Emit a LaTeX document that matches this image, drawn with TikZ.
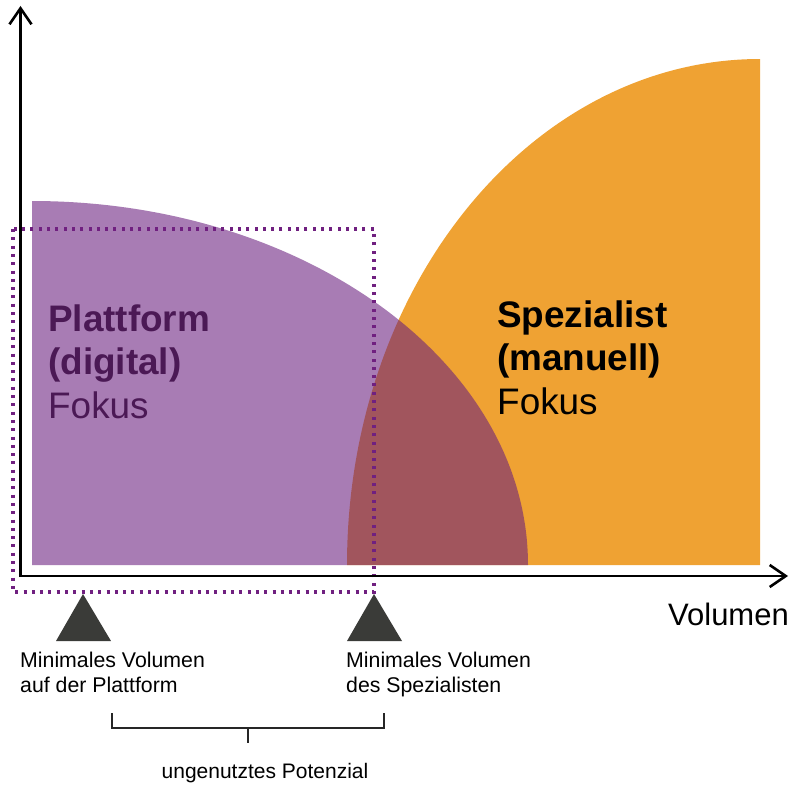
\documentclass[tikz,border=0pt]{standalone}
\usepackage{fontspec}
\setmainfont{Liberation Sans}
\usetikzlibrary{arrows.meta}
\definecolor{platlila}{RGB}{105,30,125}
\definecolor{spezorange}{RGB}{239,162,51}
\definecolor{rahmenlila}{RGB}{112,32,128}
\definecolor{textlila}{RGB}{75,25,85}
\definecolor{dreieckgrau}{RGB}{58,59,56}
\begin{document}
\begin{tikzpicture}[x=1pt,y=-1pt,
    achse/.style={line width=2.6pt,-{Straight Barb[length=16pt,width=22pt,line width=2.6pt]}},
    rahmen/.style={rahmenlila,line width=3.2pt,dash pattern=on 3pt off 5.3pt},
    marke/.style={fill=dreieckgrau},
    klammer/.style={line width=1.3pt,black!85},
    gross/.style={inner sep=0pt,align=left,font=\fontsize{36.9}{43.5}\selectfont},
    klein/.style={inner sep=0pt,align=left,font=\fontsize{21.3}{24.5}\selectfont}]
\useasboundingbox (0,0) rectangle (794,784);
\fill[spezorange] (347,565) arc[start angle=180,end angle=270,x radius=413,y radius=506] -- (760,565) -- cycle;   %Spezialist
\fill[platlila,fill opacity=0.58] (32,565) -- (32,201) arc[start angle=-90,end angle=0,x radius=496,y radius=364] -- cycle;   %Plattform
\draw[rahmen] (13,229) rectangle (374,592);   %Bereich Plattform
\draw[achse] (20.5,577) -- (20.5,6);   %y-Achse
\draw[achse] (19.2,576) -- (788,576);   %x-Achse
\fill[marke] (83,594) -- (111,641) -- (56,641) -- cycle;   %Marke 1
\fill[marke] (374,594) -- (402,641) -- (347,641) -- cycle;   %Marke 2
\node[gross,text=textlila,anchor=base west] (plattform) at (48,418) {\bfseries Plattform\\\bfseries (digital)\\Fokus};
\node[gross,anchor=base west] (spezialist) at (497,414) {\bfseries Spezialist\\\bfseries (manuell)\\Fokus};
\node[inner sep=0pt,font=\fontsize{31}{36}\selectfont,anchor=base east] (volumen) at (789,625) {Volumen};
\node[klein,anchor=base west] (minplatt) at (20,692) {Minimales Volumen\\auf der Plattform};
\node[klein,anchor=base west] (minspez) at (346,692) {Minimales Volumen\\des Spezialisten};
\coordinate (klinks) at (112,713);
\coordinate (krechts) at (384,713);
\coordinate (kmitte) at (248,728);
\draw[klammer] (klinks) -- (klinks |- kmitte) -- (krechts |- kmitte) -- (krechts);   %Klammer
\draw[klammer] (kmitte) -- ++(0,15);
\node[inner sep=0pt,font=\fontsize{21}{25}\selectfont,anchor=base] (potenzial) at (265,778) {ungenutztes Potenzial};
\end{tikzpicture}
\end{document}
